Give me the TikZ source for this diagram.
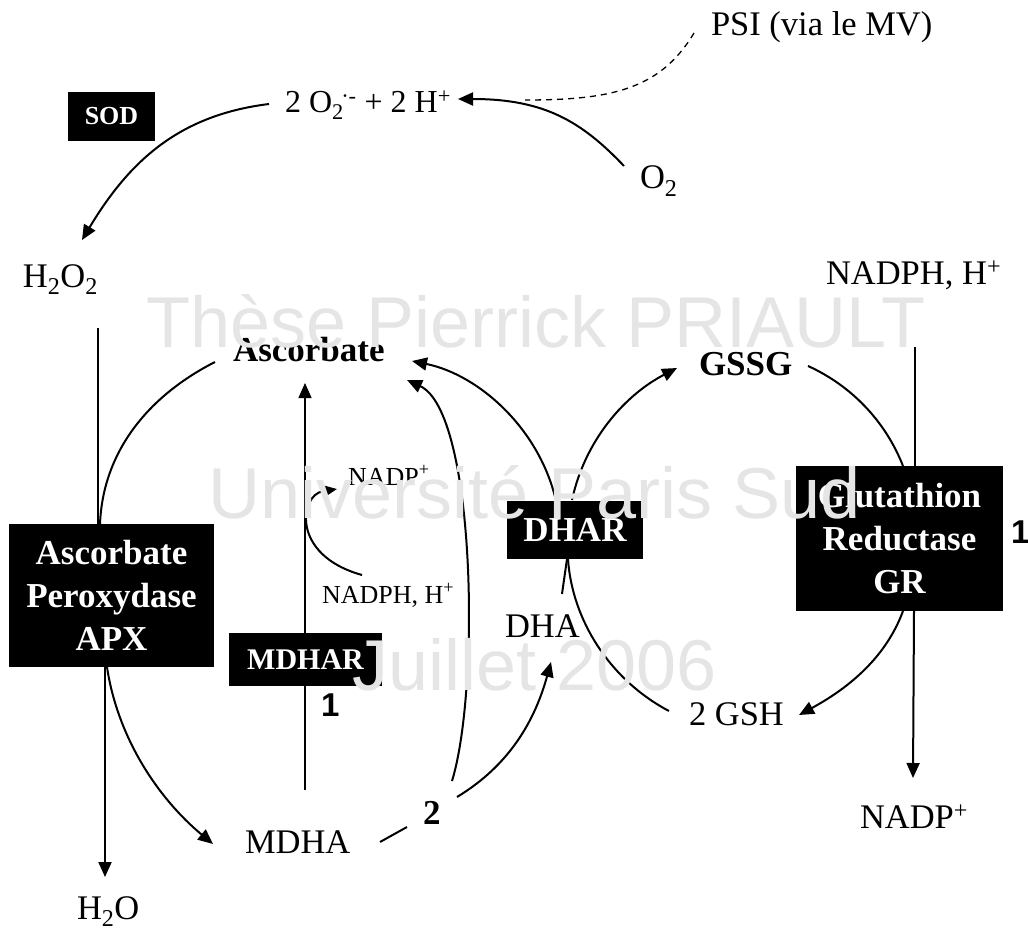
\documentclass[tikz,border=0pt]{standalone}
\usepackage{fontspec}
\setmainfont{Liberation Serif}
\newfontfamily\wmfont{Liberation Sans}
\usetikzlibrary{arrows.meta}
\definecolor{wmgray}{RGB}{229,229,229}
\begin{document}
\begin{tikzpicture}[x=1pt,y=-1pt,
  every node/.style={inner sep=0pt, outer sep=0pt},
  lbl/.style={anchor=base west, font=\fontsize{34.5}{40}\selectfont},
  blbl/.style={anchor=base west, font=\bfseries\fontsize{35}{40}\selectfont},
  small/.style={anchor=base west, font=\fontsize{26}{30}\selectfont},
  ebox/.style={fill=black, text=white, font=\bfseries\fontsize{35}{43}\selectfont, align=center},
  conn/.style={line width=2pt},
  thinl/.style={line width=1.4pt},
  tip/.style={-{Triangle[length=15pt,width=13pt]}},
  wm/.style={text=wmgray, font=\wmfont\fontsize{72}{80}\selectfont, anchor=base},
  num/.style={anchor=base west, font=\wmfont\bfseries\fontsize{33}{36}\selectfont}
]
\useasboundingbox (0,0) rectangle (1028,931);

% ---------- text nodes ----------
\node[lbl] (psi) at (711,36) {PSI (via le MV)};
\node[lbl, font=\fontsize{32}{36}\selectfont] (sup) at (285,113) {2 O\textsubscript{2}\kern-0.08em\textsuperscript{·-} + 2 H\textsuperscript{+}};
\node[lbl] (o2) at (640,189) {O\textsubscript{2}};
\node[lbl] (h2o2) at (23,287) {H\textsubscript{2}O\textsubscript{2}};
\node[lbl] (nadph) at (826,284) {NADPH, H\textsuperscript{+}};
\node[blbl] (asc) at (233,361) {Ascorbate};
\node[blbl] (gssg) at (699,375) {GSSG};
\node[small] (nadps) at (348,485) {NADP\textsuperscript{+}};
\node[small] (nadphs) at (322,603) {NADPH, H\textsuperscript{+}};
\node[lbl] (dha) at (505,637) {DHA};
\node[lbl] (gsh) at (689,725) {2 GSH};
\node[lbl] (mdha) at (245,853) {MDHA};
\node[lbl] (nadp) at (860,828) {NADP\textsuperscript{+}};
\node[lbl] (h2o) at (77,919) {H\textsubscript{2}O};
\node[blbl] (two) at (423,824) {2};
\node[num] (one1) at (321,716) {1};
\node[num] (one2) at (1011,543) {1};

% ---------- connector end points ----------
\coordinate (supL) at (269,104);
\coordinate (h2o2T) at (82,240);
\coordinate (o2L) at (624,166);
\coordinate (supR) at (458,99);
\coordinate (psiL) at (694,33);
\coordinate (join) at (525,100);
\coordinate (h2o2B) at (98,328);
\coordinate (ascL) at (215,362);
\coordinate (apxT) at (100,524);
\coordinate (apxB1) at (107,667);
\coordinate (mdhaT) at (213,844);
\coordinate (apxB2) at (105,667);
\coordinate (h2oT) at (105,877);
\coordinate (mdhaU) at (305,790);
\coordinate (ascB) at (305,383);
\coordinate (nadphsL) at (362,575);
\coordinate (nadpsL) at (337,489);
\coordinate (mdhaR) at (380,842);
\coordinate (twoL) at (407,827);
\coordinate (twoU) at (452,781);
\coordinate (ascR2) at (407,380);
\coordinate (twoR) at (457,797);
\coordinate (dhaB) at (551,662);
\coordinate (dharT1) at (556,501);
\coordinate (ascR1) at (412,361);
\coordinate (dharT2) at (572,500);
\coordinate (gssgL) at (677,368);
\coordinate (dhaT) at (562,594);
\coordinate (dharB1) at (567,559);
\coordinate (dharB2) at (568,559);
\coordinate (gshL) at (669,711);
\coordinate (gssgR) at (808,366);
\coordinate (grT) at (903,466);
\coordinate (grB) at (903,611);
\coordinate (gshR) at (799,715);
\coordinate (nadphB) at (915,347);
\coordinate (grT2) at (915,466);
\coordinate (grB2) at (914,611);
\coordinate (nadpT) at (913,778);

% ---------- connectors ----------
\draw[conn,tip] (supL) .. controls (180,115) and (130,160) .. (h2o2T);
\draw[conn,tip] (o2L) .. controls (582,122) and (545,99) .. (supR);
\draw[line width=1.3pt, dash pattern=on 6pt off 5pt] (psiL) .. controls (660,90) and (610,100) .. (join);
\draw[thinl] (h2o2B) -- (h2o2B |- apxT);
\draw[conn] (ascL) .. controls (150,395) and (103,450) .. (apxT);
\draw[conn,tip] (apxB1) .. controls (118,740) and (160,800) .. (mdhaT);
\draw[conn,tip] (apxB2) -- (h2oT);
\draw[thinl,tip] (mdhaU) -- (ascB);
\draw[conn,tip] (nadphsL) .. controls (290,555) and (300,495) .. (nadpsL);
\draw[conn] (mdhaR) -- (twoL);
\draw[conn,tip] (twoU) .. controls (480,690) and (476,412) .. (ascR2);
\draw[conn,tip] (twoR) .. controls (510,765) and (535,720) .. (dhaB);
\draw[conn,tip] (dharT1) .. controls (540,430) and (480,375) .. (ascR1);
\draw[conn,tip] (dharT2) .. controls (585,440) and (625,395) .. (gssgL);
\draw[conn] (dhaT) -- (dharB1);
\draw[conn] (dharB2) .. controls (572,620) and (610,680) .. (gshL);
\draw[conn] (gssgR) .. controls (850,385) and (885,420) .. (grT);
\draw[conn,tip] (grB) .. controls (885,660) and (845,690) .. (gshR);
\draw[thinl] (nadphB) -- (grT2);
\draw[conn,tip] (grB2) -- (nadpT);

% ---------- enzyme boxes ----------
\node[ebox, minimum width=87pt, minimum height=49pt, font=\bfseries\fontsize{26}{30}\selectfont] (sod) at (111.5,116.5) {SOD};
\node[ebox, minimum width=205pt, minimum height=143pt] (apx) at (111.5,595.5) {Ascorbate\\Peroxydase\\APX};
\node[ebox, minimum width=153pt, minimum height=53pt, font=\bfseries\fontsize{30}{34}\selectfont] (mdhar) at (305.5,659.5) {MDHAR};
\node[ebox, minimum width=136pt, minimum height=58pt] (dhar) at (575,530) {DHAR};
\node[ebox, minimum width=207pt, minimum height=145pt] (gr) at (899.5,538.5) {Glutathion\\Reductase\\GR};

% ---------- watermark ----------
\node[wm] (wm1) at (536,347) {Thèse Pierrick PRIAULT};
\node[wm] (wm2) at (535,518) {Université Paris Sud};
\node[wm] (wm3) at (535,690) {Juillet 2006};
\end{tikzpicture}
\end{document}
